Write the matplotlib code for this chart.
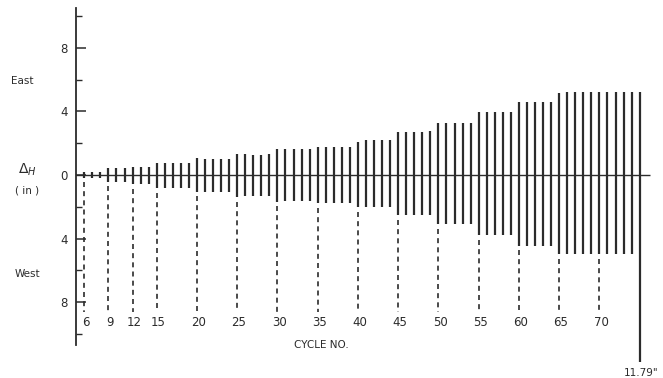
import matplotlib
matplotlib.use("Agg")
import matplotlib.pyplot as plt

# ciclos y amplitudes (pulgadas)
cycles = list(range(6, 76))
east = [0.17, 0.17, 0.17,
        0.42, 0.42, 0.42,
        0.52, 0.52, 0.52,
        0.73, 0.73, 0.73, 0.73, 0.73,
        1.05, 1.02, 1.0, 1.0, 1.0,
        1.3, 1.3, 1.25, 1.25, 1.3,
        1.6, 1.6, 1.6, 1.6, 1.6,
        1.75, 1.75, 1.75, 1.75, 1.75,
        2.1, 2.2, 2.2, 2.2, 2.2,
        2.67, 2.7, 2.7, 2.7, 2.75,
        3.24, 3.24, 3.24, 3.24, 3.24,
        3.97, 3.97, 3.97, 3.97, 3.97,
        4.57, 4.57, 4.57, 4.57, 4.57,
        5.18, 5.2, 5.2, 5.2, 5.2, 5.2, 5.2, 5.2, 5.2, 5.2,
        5.2]
west = [0.17, 0.17, 0.17,
        0.42, 0.42, 0.42,
        0.58, 0.58, 0.58,
        0.84, 0.84, 0.84, 0.84, 0.84,
        1.05, 1.05, 1.05, 1.05, 1.05,
        1.38, 1.32, 1.32, 1.32, 1.32,
        1.68, 1.65, 1.65, 1.65, 1.65,
        1.78, 1.78, 1.78, 1.78, 1.78,
        2.0, 2.0, 2.0, 2.0, 2.0,
        2.55, 2.55, 2.55, 2.55, 2.55,
        3.1, 3.1, 3.1, 3.1, 3.1,
        3.8, 3.8, 3.8, 3.8, 3.8,
        4.45, 4.45, 4.45, 4.45, 4.45,
        5.0, 5.0, 5.0, 5.0, 5.0, 5.0, 5.0, 5.0, 5.0, 5.0,
        11.79]
label_cycles = [6, 9, 12, 15, 20, 25, 30, 35, 40, 45, 50, 55, 60, 65, 70]
ytick_vals = [-8, -4, 0, 4, 8]
ytick_labels = ["8", "4", "0", "4", "8"]

ink = "#2b2b2b"

fig = plt.figure(figsize=(6.63, 3.78), dpi=100)
ax = fig.add_axes([0, 0, 1, 1])
ax.set_xlim(-4.47, 77.9)
ax.set_ylim(-12.77, 11.0)

# barras de amplitud
ax.vlines(cycles, [-w for w in west], east, color=ink, lw=1.6)
ax.hlines(0, 5, 76.3, color=ink, lw=1.0)

# lineas de trazos bajo los ciclos marcados
for c in label_cycles:
    w = west[cycles.index(c)]
    ax.vlines(c, -(w + 0.3), -8.6, color=ink, lw=1.2, linestyles=(0, (3, 2.5)))
    ax.text(c + 0.2, -9.3, str(c), ha="center", va="center", fontsize=8.5, color=ink)

# eje vertical
for s in ["top", "right", "bottom"]:
    ax.spines[s].set_visible(False)
ax.spines["left"].set_position(("data", 5))
ax.spines["left"].set_bounds(-10.7, 10.5)
ax.spines["left"].set_color(ink)
ax.spines["left"].set_linewidth(1.3)
ax.set_xticks([])
ax.set_yticks(ytick_vals)
ax.set_yticklabels(ytick_labels)
ax.set_yticks([-10, -6, -2, 2, 6, 10], minor=True)
ax.tick_params(axis="y", which="major", direction="in", length=7, width=1.1,
               colors=ink, labelsize=8.5, pad=6)
ax.tick_params(axis="y", which="minor", direction="in", length=4, width=1.0, colors=ink)

ax.text(-1.7, 5.9, "East", ha="center", va="center", fontsize=7.5, color=ink)
ax.text(-1.1, -6.2, "West", ha="center", va="center", fontsize=7.5, color=ink)
ax.text(-1.1, 0.35, r"$\Delta_H$", ha="center", va="center", fontsize=10, color=ink)
ax.text(-1.1, -0.95, "( in )", ha="center", va="center", fontsize=7.5, color=ink)
ax.text(35.4, -10.7, "CYCLE NO.", ha="center", va="center", fontsize=7.5, color=ink)
ax.text(75.2, -12.45, "11.79\"", ha="center", va="center", fontsize=7.5, color=ink)

plt.savefig("out.png", dpi=100)
